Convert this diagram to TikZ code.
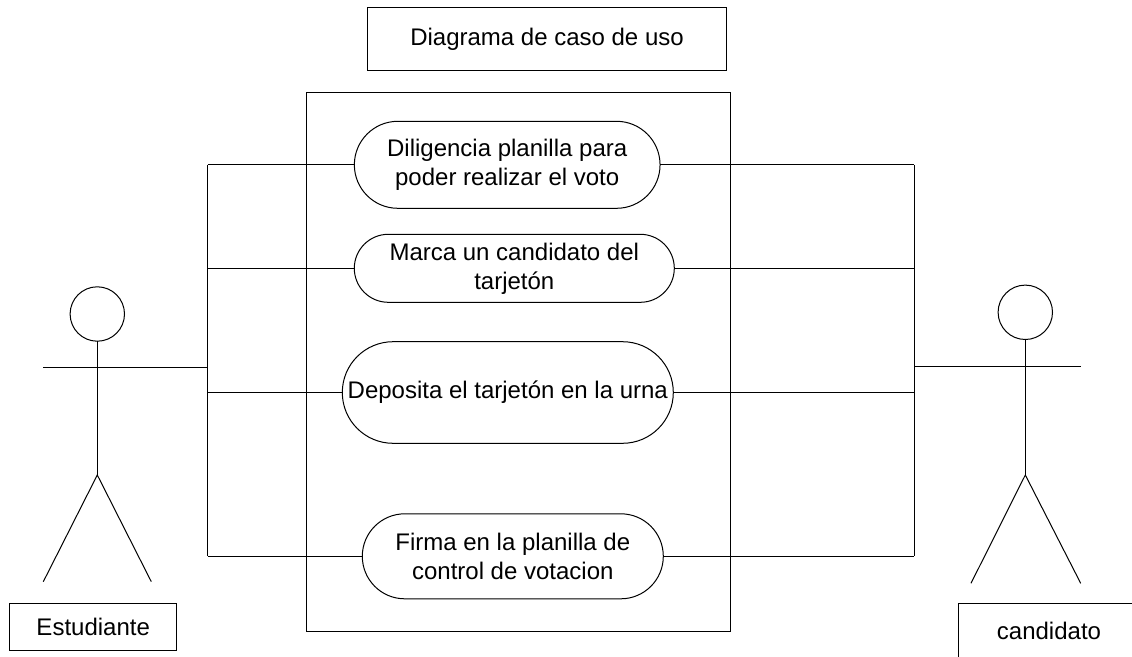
\documentclass[tikz,border=0pt]{standalone}
\usepackage{fontspec}
\setmainfont{Liberation Sans}
\usetikzlibrary{shapes.misc}
\tikzset{
  every path/.style={line width=0.75pt},
  lbl/.style={font=\fontsize{18pt}{21.75pt}\selectfont, align=center, inner sep=0pt, outer sep=0pt},
  boxed/.style={draw, rectangle, lbl, minimum width=#1},
  usecase/.style={draw, rounded rectangle, lbl, fill=white, minimum width=#1},
  head/.style={draw, circle, inner sep=0pt, outer sep=0pt, minimum size=54.4*0.75pt},
  wire/.style={draw}
}
\begin{document}
\begin{tikzpicture}[x=0.75pt,y=-0.75pt]
\useasboundingbox (0,0) rectangle (1132,657);
% title and system boundary
\node[boxed=359.4*0.75pt, minimum height=63.4*0.75pt] (title) at (547,39) {Diagrama de caso de uso};
\node[draw, rectangle, inner sep=0pt, outer sep=0pt, minimum width=424*0.75pt, minimum height=538.7*0.75pt] (sys) at (518.7,362.3) {};
% use cases
\node[usecase=305.7*0.75pt, minimum height=87*0.75pt] (u1) at (507.2,164.8) {Diligencia planilla para\\poder realizar el voto};
\node[usecase=320*0.75pt, minimum height=68*0.75pt] (u2) at (514.3,268.3) {Marca un candidato del\\tarjetón};
\node[usecase=331*0.75pt, minimum height=101.6*0.75pt] (u3) at (507.8,392.5) {Deposita el tarjetón en la urna};
\node[usecase=301*0.75pt, minimum height=85*0.75pt] (u4) at (512.8,556.3) {Firma en la planilla de\\control de votacion};
% left actor
\node[head] (h1) at (97.3,314) {};
\coordinate (hip1) at (97.3,475);
\coordinate (handL1) at (43.3,367.7);
\coordinate (footL1) at (43.3,581.7);
\coordinate (footR1) at (151.3,581.7);
\coordinate (busT1) at (207.7,164.8);
\coordinate (busA1) at (207.7,268.3);
\coordinate (busM1) at (207.7,367.7);
\coordinate (busC1) at (207.7,392.5);
\coordinate (busB1) at (207.7,556.3);
\draw (h1.south) -- (hip1);
\draw (handL1) -- (busM1);
\draw (footL1) -- (hip1) -- (footR1);
\draw (busT1) -- (busB1);
\draw (busT1) -- (u1.west);
\draw (busA1) -- (u2.west);
\draw (busC1) -- (u3.west);
\draw (busB1) -- (u4.west);
\node[boxed=167*0.75pt, minimum height=46.6*0.75pt] (est) at (93.2,627) {Estudiante};
% right actor
\node[head] (h2) at (1025.3,312.3) {};
\coordinate (hip2) at (1025.3,475);
\coordinate (handR2) at (1080.7,366.7);
\coordinate (footL2) at (971,583.3);
\coordinate (footR2) at (1080.7,583.3);
\coordinate (busT2) at (914.3,164.8);
\coordinate (busA2) at (914.3,268.3);
\coordinate (busM2) at (914.3,366.7);
\coordinate (busC2) at (914.3,392.5);
\coordinate (busB2) at (914.3,556.3);
\draw (h2.south) -- (hip2);
\draw (busM2) -- (handR2);
\draw (footL2) -- (hip2) -- (footR2);
\draw (busT2) -- (busB2);
\draw (u1.east) -- (busT2);
\draw (u2.east) -- (busA2);
\draw (u3.east) -- (busC2);
\draw (u4.east) -- (busB2);
% candidato label: box open at the right and bottom
\node[lbl] (cand) at (1049,631) {candidato};
\coordinate (cTR) at (1132,603.7);
\coordinate (cTL) at (958.7,603.7);
\coordinate (cBL) at (958.7,657);
\draw (cTR) -- (cTL) -- (cBL);
\end{tikzpicture}
\end{document}
